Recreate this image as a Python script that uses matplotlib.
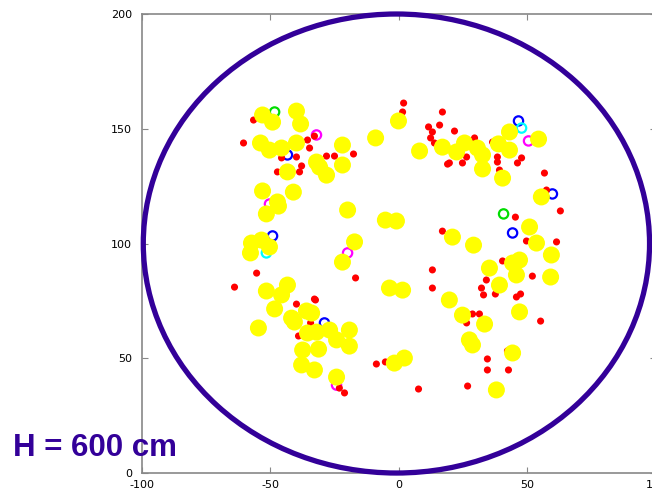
import matplotlib
matplotlib.use("Agg")
import matplotlib.pyplot as plt
from matplotlib.patches import Ellipse

# yellow hits (big dots)
yel_x = [-53.1, -49.2, -39.9, -38.3, -53.9, -50.4, -45.7, -39.9, -43.4, -53.1, -41.1, -47.3,
         -32.1, -28.2, -30.9, -22.0, -22.0, -0.2, -9.1, 8.0, 16.9, 25.5, 30.5, 32.5, 22.4,
         38.7, 43.0, 43.0, 54.3, 32.5, 40.3, 55.4, -51.6, -46.9, -57.4, -53.5, -50.4, -57.8,
         -20.0, -22.0, -17.3, -5.3, -1.0, -51.6, -43.4, -45.7, 20.8, 29.0, 50.8, 53.5, 59.3,
         35.2, 44.2, 46.9, 45.7, 39.1, 59.0, 19.6, -3.7, 1.4, 24.7, 33.3, 46.9, -48.4, -41.8,
         -36.0, -34.0, -54.7, -35.6, -32.1, -27.0, -19.3, -24.3, -19.3, -37.5, -31.3, -37.9,
         -32.9, -24.3, 37.9, 28.6, 44.2, -1.8, 2.1, -40.7, 27.4]
yel_y = [156.0, 152.9, 157.7, 152.1, 143.8, 140.7, 141.6, 143.8, 131.2, 122.9, 122.4, 118.1,
         135.5, 129.8, 133.3, 142.9, 134.2, 153.4, 146.0, 140.3, 142.0, 143.8, 141.6, 138.6, 139.9,
         143.4, 148.6, 140.7, 145.5, 132.5, 128.5, 120.3, 112.9, 116.3, 100.2, 101.5, 98.5, 95.9,
         114.6, 91.9, 100.7, 110.2, 109.8, 79.3, 81.9, 77.6, 102.8, 99.3, 107.2, 100.2, 95.0,
         89.3, 91.5, 92.8, 86.3, 81.9, 85.4, 75.4, 80.6, 79.7, 68.8, 64.9, 70.2, 71.5, 67.5,
         70.6, 69.7, 63.2, 61.0, 61.4, 62.3, 62.3, 58.0, 55.3, 53.6, 54.0, 47.1,
         44.9, 41.8, 36.2, 55.8, 52.3, 47.9, 50.1, 65.8, 58.0]

# red hits (small dots)
red_x = [-56.6, -60.5, -35.6, -34.8, -39.9, -37.9, -38.7, -47.3, -45.7, -28.2, -25.1, -32.9,
         1.8, 1.4, 16.9, 11.5, 13.0, 12.3, 13.8, 15.8, 18.9, -17.7, 21.6, 19.6, 24.7, 26.3,
         29.4, 36.4, 38.3, 38.3, 46.1, 47.7, 39.1, 56.6, 57.4, -55.4, -64.0, -32.9, 45.3,
         62.8, 16.9, 49.6, 61.3, 13.0, 13.0, 34.0, 40.3, 51.9, 32.1, 32.9, 37.5, 45.7, 47.3,
         55.1, 28.6, 31.3, 26.3, -16.9, -39.9, -32.5, -34.4, -39.1, -21.2, -23.2, -8.8, -5.3,
         7.6, 26.7, 34.4, 34.4, 42.6, 42.2]
red_y = [153.8, 143.8, 145.1, 141.6, 137.7, 133.8, 131.2, 131.2, 137.3, 138.1, 138.1, 146.8,
         161.2, 157.3, 157.3, 150.8, 148.6, 146.0, 143.8, 151.6, 134.6, 139.0, 149.0, 135.1, 135.1, 137.7,
         146.0, 144.2, 137.7, 135.5, 135.1, 137.3, 132.0, 130.7, 123.3, 87.1, 81.0, 75.8, 111.5,
         114.2, 105.4, 101.1, 100.7, 88.5, 80.6, 84.1, 92.4, 85.8, 80.6, 77.6, 78.0, 76.7, 78.0,
         66.2, 69.3, 69.3, 65.4, 85.0, 73.6, 75.4, 65.4, 59.7, 34.9, 37.0, 47.5, 48.4,
         36.6, 37.9, 49.7, 44.9, 44.9, 53.2]

# open rings
ring_x = [-48.4, -32.1, -43.4, 46.5, 47.7, 50.4, 59.7, 40.7, 44.2, -49.2, -51.6, -50.4, -20.0, -29.0, -24.3]
ring_y = [157.3, 147.3, 138.6, 153.4, 150.3, 144.7, 121.6, 112.9, 104.6, 103.3, 95.9, 117.2, 95.9, 65.4, 38.3]
ring_c = ['#00dd00', '#ff00ff', '#0000ff', '#0000ff', '#00ffff', '#ff00ff', '#0000ff', '#00dd00',
          '#0000ff', '#0000ff', '#00ffff', '#ff00ff', '#ff00ff', '#0000ff', '#ff00ff']

indigo = '#330099'

fig = plt.figure(figsize=(6.52, 4.95), dpi=100)
ax = fig.add_axes([0.2178, 0.0444, 0.7883, 0.9273])

ax.scatter(ring_x, ring_y, s=45, facecolors='none', edgecolors=ring_c, linewidths=1.6, zorder=2)
ax.scatter(red_x, red_y, s=26, c='#ff0000', edgecolors='none', zorder=3)
ax.scatter(yel_x, yel_y, s=150, c='#ffff00', edgecolors='none', zorder=4)

ring = Ellipse((-1, 100), 197, 200, fill=False, edgecolor=indigo, linewidth=3.8,
               clip_on=False, zorder=5)
ax.add_patch(ring)

ax.set_xlim(-100, 100)
ax.set_ylim(0, 200)
ax.set_xticks([-100, -50, 0, 50, 100])
ax.set_yticks([0, 50, 100, 150, 200])
ax.set_xticklabels(['-100', '-50', '0', '50', '100'])
ax.tick_params(direction='in', length=4, width=0.8, color='#888888', labelsize=8,
               top=True, right=True)
ax.tick_params(axis='x', pad=5)
ax.tick_params(axis='y', pad=7)
for s in ax.spines.values():
    s.set_color('#888888')
    s.set_linewidth(1.2)

fig.text(0.02, 0.079, 'H = 600 cm', color=indigo, fontsize=22.5, fontweight='bold',
         family='Liberation Sans')

fig.savefig('out.png', dpi=100)
